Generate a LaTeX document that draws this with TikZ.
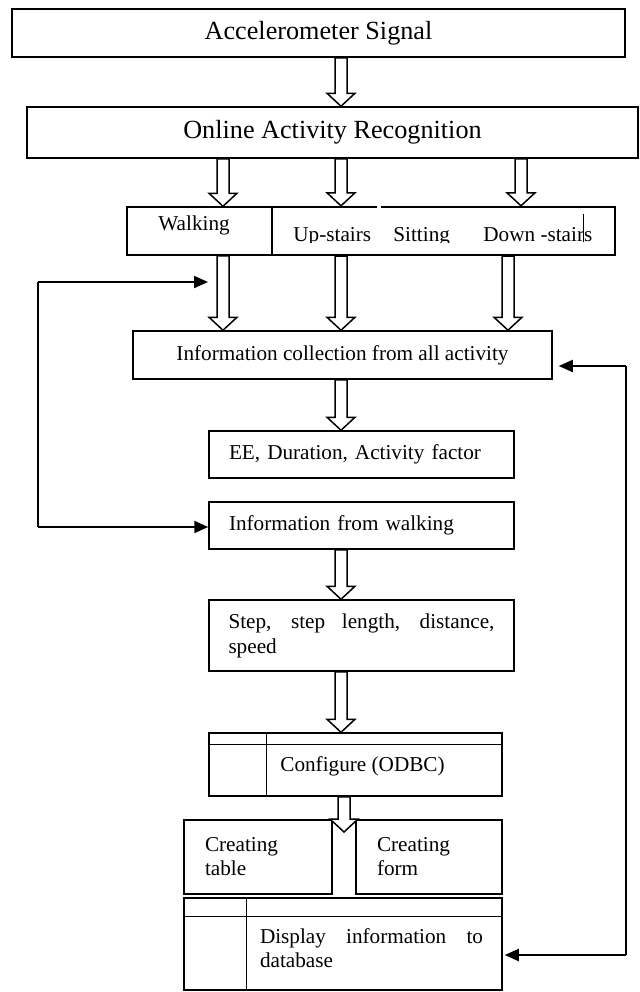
\documentclass[tikz,border=0pt]{standalone}
\usepackage{fontspec}
\setmainfont{Liberation Serif}
\usetikzlibrary{arrows.meta,calc}

% hollow block arrow, from a point on the lower edge of one box to a point on the upper edge of the next
\newcommand{\blockarrow}[2]{%
  \draw[hollow] let \p1=(#1), \p2=(#2) in
    (\x1-3pt,\y1) -- (\x1+3pt,\y1) -- (\x1+3pt,\y2+6.5pt) -- (\x1+7pt,\y2+6.5pt)
    -- (\x1,\y2) -- (\x1-7pt,\y2+6.5pt) -- (\x1-3pt,\y2+6.5pt) -- cycle;}

\begin{document}
\begin{tikzpicture}[x=0.5pt,y=-0.5pt]
    \tikzset{box/.style = {draw, rectangle, line width=0.75pt, inner sep=0pt}}
    \tikzset{lbox/.style = {box, align=left, inner xsep=10pt, inner ysep=0pt}}
    \tikzset{hollow/.style = {draw, fill=white, line width=0.75pt}}
    \tikzset{back/.style = {line width=1pt, -{Triangle[length=7pt,width=6pt]}}}
    \tikzset{big/.style = {font=\fontsize{13.1}{16}\selectfont}}
    \tikzset{small/.style = {font=\fontsize{10.6}{12}\selectfont}}
    \useasboundingbox (0,0) rectangle (640,992);

    % columns of the block arrows
    \coordinate (colW) at (223,0);
    \coordinate (colM) at (341,0);
    \coordinate (colR) at (521,0);
    \coordinate (colD) at (508,0);
    \coordinate (colC) at (344,0);

    \node[box, big, minimum width=306.5pt, minimum height=24pt] (acc) at (318.5,33) {Accelerometer Signal};
    \node[box, big, minimum width=305.5pt, minimum height=25.5pt] (oar) at (332.5,132.5) {Online Activity Recognition};

    \node[box, minimum width=72.5pt, minimum height=24pt] (walk) at (199.5,231) {};
    \node[box, line width=1.2pt, minimum width=171.5pt, minimum height=24pt] (acts) at (443.5,231) {};
    \draw[white, line width=2pt] (377,207) -- (381,207);
    \node[small, anchor=base west, inner sep=0pt] (walktxt) at (158,230) {Walking};
    \begin{scope}
        \clip (272,207) rectangle (615,242);
        \node[small, anchor=base west, inner sep=0pt] (upst) at (293,241) {Up-stairs};
        \node[small, anchor=base west, inner sep=0pt] (sitt) at (393,241) {Sitting};
        \node[small, anchor=base west, inner sep=0pt] (down) at (483,241) {Down -stairs};
    \end{scope}
    \draw[line width=0.4pt] (583,214) -- (583,242);

    \node[box, small, minimum width=209.5pt, minimum height=24pt] (info) at (342.5,355) {Information collection from all activity};
    \node[lbox, small, text width=132.5pt, minimum height=23.5pt] (ee) at (361.5,454.5) {EE, Duration, Activity factor};
    \node[lbox, small, text width=132.5pt, minimum height=23.5pt] (winfo) at (361.5,525.5) {Information from walking};
    \node[lbox, small, align=justify, text width=133pt, inner xsep=9.75pt, minimum height=35.5pt,
          font=\fontsize{10.6}{12.5}\selectfont] (step) at (361.5,635.5) {Step, step length, distance, speed};

    \node[box, minimum width=146.5pt, minimum height=31.5pt] (conf) at (355.5,764.5) {};
    \draw[line width=0.75pt] ([yshift=-6pt]conf.north west) -- ([yshift=-6pt]conf.north east);
    \draw[line width=0.75pt] ([xshift=29pt]conf.north west) -- ([xshift=29pt]conf.south west);
    \node[small, anchor=west, inner sep=0pt] (conftxt) at (280,766) {Configure (ODBC)};

    \node[lbox, small, inner xsep=10.5pt, text width=53pt, minimum height=37pt] (table) at (258,857) {Creating\\table};
    \node[lbox, small, inner xsep=10.5pt, text width=52pt, minimum height=37pt] (form) at (429,857) {Creating\\form};

    \node[box, minimum width=159pt, minimum height=46pt] (disp) at (343,944) {};
    \draw[line width=0.75pt] ([yshift=-9.5pt]disp.north west) -- ([yshift=-9.5pt]disp.north east);
    \draw[line width=0.75pt] ([xshift=31.5pt]disp.north west) -- ([xshift=31.5pt]disp.south west);
    \node[small, align=justify, text width=111.5pt, inner sep=0pt] (disptxt) at (371.5,948) {Display information to database};

    % block arrows
    \blockarrow{acc.south -| colM}{oar.north -| colM}
    \blockarrow{oar.south -| colW}{walk.north -| colW}
    \blockarrow{oar.south -| colM}{acts.north -| colM}
    \blockarrow{oar.south -| colR}{acts.north -| colR}
    \blockarrow{walk.south -| colW}{info.north -| colW}
    \blockarrow{acts.south -| colM}{info.north -| colM}
    \blockarrow{acts.south -| colD}{info.north -| colD}
    \blockarrow{info.south -| colM}{ee.north -| colM}
    \blockarrow{winfo.south -| colM}{step.north -| colM}
    \blockarrow{step.south -| colM}{conf.north -| colM}
    \coordinate (ctip) at (344,832);
    \blockarrow{conf.south -| colC}{ctip}

    % walking feedback on the left
    \coordinate (tapL) at (208,282);
    \coordinate (lt) at (38,282);
    \coordinate (lb) at (38,527);
    \draw[line width=0.6pt] (lt) -- (lb);
    \draw[back] (lt) -- (tapL);
    \draw[back] (lb) -- (lb -| winfo.west);

    % database feedback on the right
    \coordinate (rt) at (626,366);
    \coordinate (rb) at (626,955);
    \draw[line width=1pt] (rt) -- (rb);
    \draw[back] (rt) -- ([xshift=3pt]info.east |- rt);
    \draw[back] (rb) -- ([xshift=1pt]disp.east |- rb);
\end{tikzpicture}
\end{document}
